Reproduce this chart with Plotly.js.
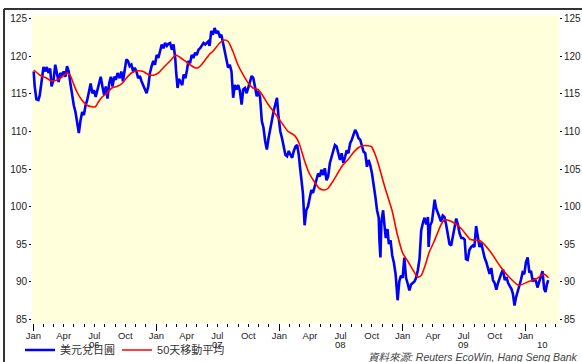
<!DOCTYPE html>
<html><head><meta charset="utf-8">
<script src="https://cdn.plot.ly/plotly-3.0.1.min.js"></script>
<style>html,body{margin:0;padding:0;background:#fff}#chart{width:582px;height:362px}</style>
</head><body><div id="chart"></div>
<script>
// ---- USD/JPY spot (blue), dates as MM-DD per year ----
const usdDates2006 = ['01-02','01-05','01-10','01-16','01-20','01-25','01-31','02-06','02-10','02-15','02-20','02-24','03-02','03-07','03-12','03-17','03-22','03-27','04-01','04-06','04-11','04-16','04-21','04-26','05-01','05-06','05-11','05-16','05-21','05-26','05-31','06-05','06-10','06-15','06-20','06-25','06-30','07-05','07-10','07-15','07-20','07-25','07-30','08-04','08-09','08-14','08-19','08-24','08-29','09-03','09-08','09-14','09-19','09-24','09-29','10-04','10-09','10-14','10-19','10-24','10-29','11-03','11-08','11-13','11-18','11-23','11-28','12-03','12-08','12-13','12-18','12-23','12-28'];
const usdRates2006 = [118.0,116.0,114.3,114.2,114.8,116.5,118.6,118.0,118.6,117.8,118.4,116.0,116.9,118.9,117.8,116.6,117.8,117.5,118.0,117.3,118.7,118.0,116.4,114.6,113.5,112.6,111.3,109.8,111.5,112.6,112.2,113.5,114.2,115.3,116.4,115.1,115.5,114.6,115.5,116.4,117.3,116.0,114.9,116.0,114.4,116.4,117.3,116.0,117.3,116.9,117.8,117.1,118.0,116.7,118.5,119.6,119.4,118.7,118.9,118.0,118.5,118.0,117.1,117.4,116.7,116.2,115.6,115.1,116.0,117.8,118.7,119.4,118.9];

const usdDates2007 = ['01-02','01-07','01-12','01-17','01-22','01-27','02-01','02-06','02-11','02-16','02-21','02-26','03-01','03-05','03-09','03-14','03-19','03-23','03-28','04-02','04-06','04-11','04-16','04-21','04-26','05-01','05-06','05-11','05-16','05-21','05-26','05-31','06-04','06-08','06-13','06-18','06-23','06-28','07-03','07-08','07-13','07-18','07-23','07-28','08-02','08-07','08-12','08-17','08-22','08-27','09-01','09-06','09-11','09-16','09-21','09-26','10-01','10-06','10-11','10-16','10-21','10-26','10-31','11-05','11-10','11-15','11-20','11-25','11-30','12-05','12-10','12-15','12-20','12-25','12-30'];
const usdRates2007 = [120.2,119.8,120.9,121.6,121.1,121.8,121.4,121.7,121.8,120.9,121.6,119.8,117.8,115.8,117.0,116.6,116.2,117.6,117.1,118.2,119.4,119.1,120.2,119.8,120.5,120.2,120.9,121.1,121.4,121.8,121.6,121.9,122.0,121.4,123.4,122.9,123.8,123.1,123.4,122.7,122.9,121.8,120.7,119.8,118.5,118.9,118.0,114.5,116.2,115.6,116.2,115.4,113.6,115.6,115.8,115.1,116.0,116.7,117.4,117.1,115.6,114.7,115.4,114.5,111.4,110.5,108.7,107.6,109.1,110.5,111.4,112.7,113.6,114.5,111.8];

const usdDates2008 = ['01-04','01-09','01-14','01-19','01-24','01-29','02-03','02-08','02-13','02-18','02-23','02-28','03-03','03-06','03-11','03-16','03-21','03-26','03-31','04-05','04-10','04-15','04-20','04-25','04-30','05-05','05-10','05-15','05-20','05-25','05-30','06-04','06-09','06-14','06-19','06-24','06-29','07-04','07-09','07-14','07-19','07-24','07-29','08-03','08-08','08-13','08-18','08-23','08-28','09-02','09-07','09-12','09-17','09-22','09-27','10-02','10-07','10-12','10-17','10-22','10-24','10-27','10-30','11-04','11-07','11-12','11-17','11-21','11-26','12-01','12-06','12-11','12-17','12-22','12-27'];
const usdRates2008 = [110.0,109.1,107.8,106.9,106.7,107.4,106.9,106.5,107.4,108.0,108.2,106.8,105.0,103.5,101.8,97.5,99.5,100.0,101.3,102.2,101.8,102.6,103.3,104.4,104.0,104.9,104.2,105.1,103.5,104.0,105.8,106.6,107.1,108.2,108.0,107.1,106.2,107.1,105.8,106.6,107.5,107.1,108.4,108.9,109.5,110.2,109.8,109.1,108.9,108.0,107.3,107.1,105.3,106.2,105.5,104.4,103.1,101.3,99.5,98.5,95.5,93.2,98.0,99.5,98.0,95.8,97.0,95.0,95.5,93.5,92.5,91.0,87.5,90.0,90.8];

const usdDates2009 = ['01-01','01-06','01-11','01-16','01-21','01-26','01-31','02-05','02-10','02-15','02-20','02-25','03-02','03-07','03-12','03-17','03-19','03-24','03-29','04-03','04-06','04-10','04-15','04-20','04-25','04-30','05-05','05-10','05-15','05-20','05-25','05-30','06-04','06-09','06-14','06-19','06-24','06-29','07-04','07-08','07-13','07-18','07-23','07-28','08-02','08-07','08-12','08-17','08-22','08-27','09-01','09-06','09-11','09-16','09-21','09-26','10-01','10-06','10-11','10-16','10-21','10-26','10-31','11-05','11-10','11-15','11-20','11-24','11-29','12-03','12-08','12-13','12-18','12-23','12-28'];
const usdRates2009 = [90.5,93.2,90.5,89.7,88.8,89.6,89.8,90.0,90.5,91.5,93.0,96.8,97.8,98.5,97.6,98.6,94.6,97.5,98.0,99.8,100.9,99.8,99.2,98.6,98.0,98.8,98.6,97.6,96.4,95.0,94.8,96.0,97.0,98.4,97.6,96.4,95.8,95.8,95.6,93.0,92.9,94.2,94.6,94.8,94.6,97.4,96.0,94.6,95.2,94.0,93.2,92.6,91.6,91.0,91.8,90.2,89.8,88.9,89.8,90.6,91.1,91.6,90.2,90.6,89.8,89.4,89.0,88.4,86.8,87.8,88.8,89.4,90.2,91.2,91.0];

const usdDates2010 = ['01-02','01-07','01-12','01-17','01-22','01-27','02-01','02-05','02-10','02-15','02-20','02-25','03-01','03-05','03-09'];
const usdRates2010 = [92.6,93.2,91.2,91.4,90.0,90.4,90.0,89.2,90.0,90.8,91.4,89.0,88.6,89.6,90.2];

// ---- 50-day moving average (red) ----
const maDates2006 = ['01-02','01-21','02-10','02-20','03-07','03-22','04-11','04-20','04-30','05-10','05-25','06-09','06-24','07-04','07-14','07-24','08-07','08-22','09-06','09-21','09-30','10-19','11-08','11-23','12-08','12-23'];
const maRates2006 = [118.2,117.5,117.1,116.8,116.8,117.1,117.8,117.5,116.4,115.3,114.2,113.5,113.3,113.3,114.0,114.6,115.1,115.8,116.0,116.4,116.9,117.8,118.1,118.0,117.6,117.5];
const maDates2007 = ['01-07','01-26','02-15','02-27','03-12','03-27','04-11','04-26','05-05','05-15','05-27','06-10','06-18','07-08','07-23','08-02','08-16','08-31','09-15','09-30','10-15','10-30','11-14','11-29','12-14','12-29'];
const maRates2007 = [117.8,118.7,119.6,120.2,119.9,119.4,118.9,118.5,118.5,118.9,119.6,120.4,120.7,121.8,122.2,122.0,120.7,118.9,117.6,116.5,115.8,115.6,114.7,113.6,112.7,111.8];
const maDates2008 = ['01-12','01-27','02-11','02-20','02-29','03-15','03-30','04-14','04-29','05-14','05-24','06-07','06-22','07-07','07-22','08-06','08-21','09-05','09-20','09-30','10-10','10-20','10-30','11-09','11-18','12-01','12-15'];
const maRates2008 = [110.9,110.0,109.6,109.2,108.4,106.2,104.4,103.3,102.4,102.2,102.4,103.3,104.4,105.5,106.2,107.1,107.8,108.1,108.1,108.0,107.1,105.8,104.2,102.6,101.3,99.4,96.5];
const maDates2009 = ['01-01','01-15','02-01','02-15','02-25','03-10','03-20','04-04','04-24','05-04','05-14','06-03','06-23','07-13','07-21','08-03','08-20','09-18','10-18','11-17','12-11'];
const maRates2009 = [93.8,92.8,91.5,90.6,90.8,92.3,93.8,95.3,97.5,98.2,98.2,97.8,97.1,96.0,95.6,95.5,95.4,94.0,92.0,90.4,89.5];
const maDates2010 = ['01-10','02-04','02-24','03-10'];
const maRates2010 = [90.0,90.4,91.0,90.5];

// ---- labels ----
const seriesNames = ['美元兌日圓', '50天移動平均'];
const monthLabels = ['Jan','','','Apr','','','Jul','','','Oct','',''];
const yearList = ['2006','2007','2008','2009','2010'];
const yearLabels = ['06','07','08','09','10'];
const yearLabelDates = ['2006-07-02','2007-07-02','2008-07-02','2009-07-02','2010-02-19'];
const yTicks = [85,90,95,100,105,110,115,120,125];
const sourceText = '資料來源: Reuters EcoWin, Hang Seng Bank';

function withYear(y, arr){ return arr.map(s => y + '-' + s); }
const usdDates = [].concat(withYear('2006',usdDates2006), withYear('2007',usdDates2007), withYear('2008',usdDates2008), withYear('2009',usdDates2009), withYear('2010',usdDates2010));
const usdRates = [].concat(usdRates2006, usdRates2007, usdRates2008, usdRates2009, usdRates2010);
const maDates = [].concat(withYear('2006',maDates2006), withYear('2007',maDates2007), withYear('2008',maDates2008), withYear('2009',maDates2009), withYear('2010',maDates2010));
const maRates = [].concat(maRates2006, maRates2007, maRates2008, maRates2009, maRates2010);

// monthly tick positions (labels only on quarter months, none past the data)
const monthTicks = [], monthText = [];
yearList.forEach(y => {
  for (let m = 1; m <= 12; m++) {
    if (y === '2010' && m > 4) break;
    monthTicks.push(y + '-' + String(m).padStart(2,'0') + '-01');
    monthText.push((y === '2010' && m > 1) ? '' : monthLabels[m-1]);
  }
});
const janTicks = yearList.map(y => y + '-01-01');

const xRange = ['2005-12-28','2010-04-10'];
const yRange = [84.47, 125.53];
const FONT = 'Arial, "Liberation Sans", "Noto Sans CJK TC", sans-serif';

const traces = [
  {x: usdDates, y: usdRates, type:'scatter', mode:'lines', name: seriesNames[0],
   legendwidth: 52, line:{color:'#0000ff', width:2.6}},
  {x: maDates, y: maRates, type:'scatter', mode:'lines', name: seriesNames[1],
   xaxis:'x2', yaxis:'y2',
   line:{color:'#ff0000', width:1.6, shape:'spline', smoothing:0.6}}
];

const annotations = yearLabels.map((t,i) => ({
  x: yearLabelDates[i], xref:'x', y:-0.070, yref:'paper', text:t, showarrow:false,
  xanchor:'center', yanchor:'middle', font:{size:9.5, color:'#222'}
}));
annotations.push({x:1.04, xref:'paper', y:-0.11, yref:'paper', text:'<i>'+sourceText+'</i>',
  showarrow:false, xanchor:'right', yanchor:'middle', font:{size:10.5, color:'#444'}});

const layout = {
  width:582, height:362,
  margin:{l:32, r:23, t:15, b:39, pad:0, autoexpand:false},
  paper_bgcolor:'#ffffff', plot_bgcolor:'#ffffdc',
  font:{family:FONT, size:10, color:'#222'},
  showlegend:true,
  legend:{orientation:'h', xref:'container', yref:'container', x:0.0344, xanchor:'left',
    y:0.0331, yanchor:'middle', bgcolor:'rgba(0,0,0,0)', font:{size:11, color:'#333'},
    itemwidth:30},
  xaxis:{type:'date', range:xRange, tickvals:monthTicks, ticktext:monthText,
    ticks:'outside', ticklen:3, tickwidth:1, tickcolor:'#000', showgrid:false,
    zeroline:false, showline:false, tickangle:0, ticklabelstandoff:1,
    tickfont:{size:9.5, color:'#222'}},
  xaxis2:{type:'date', range:xRange, overlaying:'x', anchor:'y2', side:'bottom',
    tickvals:janTicks, ticks:'outside', ticklen:7, tickwidth:1.5, tickcolor:'#000',
    showticklabels:false, showgrid:false, zeroline:false, showline:false},
  yaxis:{range:yRange, tickvals:yTicks, ticks:'outside', ticklen:2, tickcolor:'#000',
    showgrid:false, zeroline:false, showline:false, tickfont:{size:10, color:'#222'}},
  yaxis2:{range:yRange, overlaying:'y', anchor:'x2', side:'right', tickvals:yTicks,
    ticks:'outside', ticklen:2, tickcolor:'#000', showgrid:false, zeroline:false,
    showline:false, tickfont:{size:10, color:'#222'}},
  shapes:[
    {type:'line', xref:'paper', yref:'paper', x0:-0.0531, x1:1.2, y0:1.0195, y1:1.0195, line:{color:'#333', width:2}},
    {type:'line', xref:'paper', yref:'paper', x0:-0.0531, x1:-0.0531, y0:1.0195, y1:-0.3, line:{color:'#333', width:2}}
  ],
  annotations: annotations
};

Plotly.newPlot('chart', traces, layout, {staticPlot:true, displayModeBar:false});
</script>
</body></html>
